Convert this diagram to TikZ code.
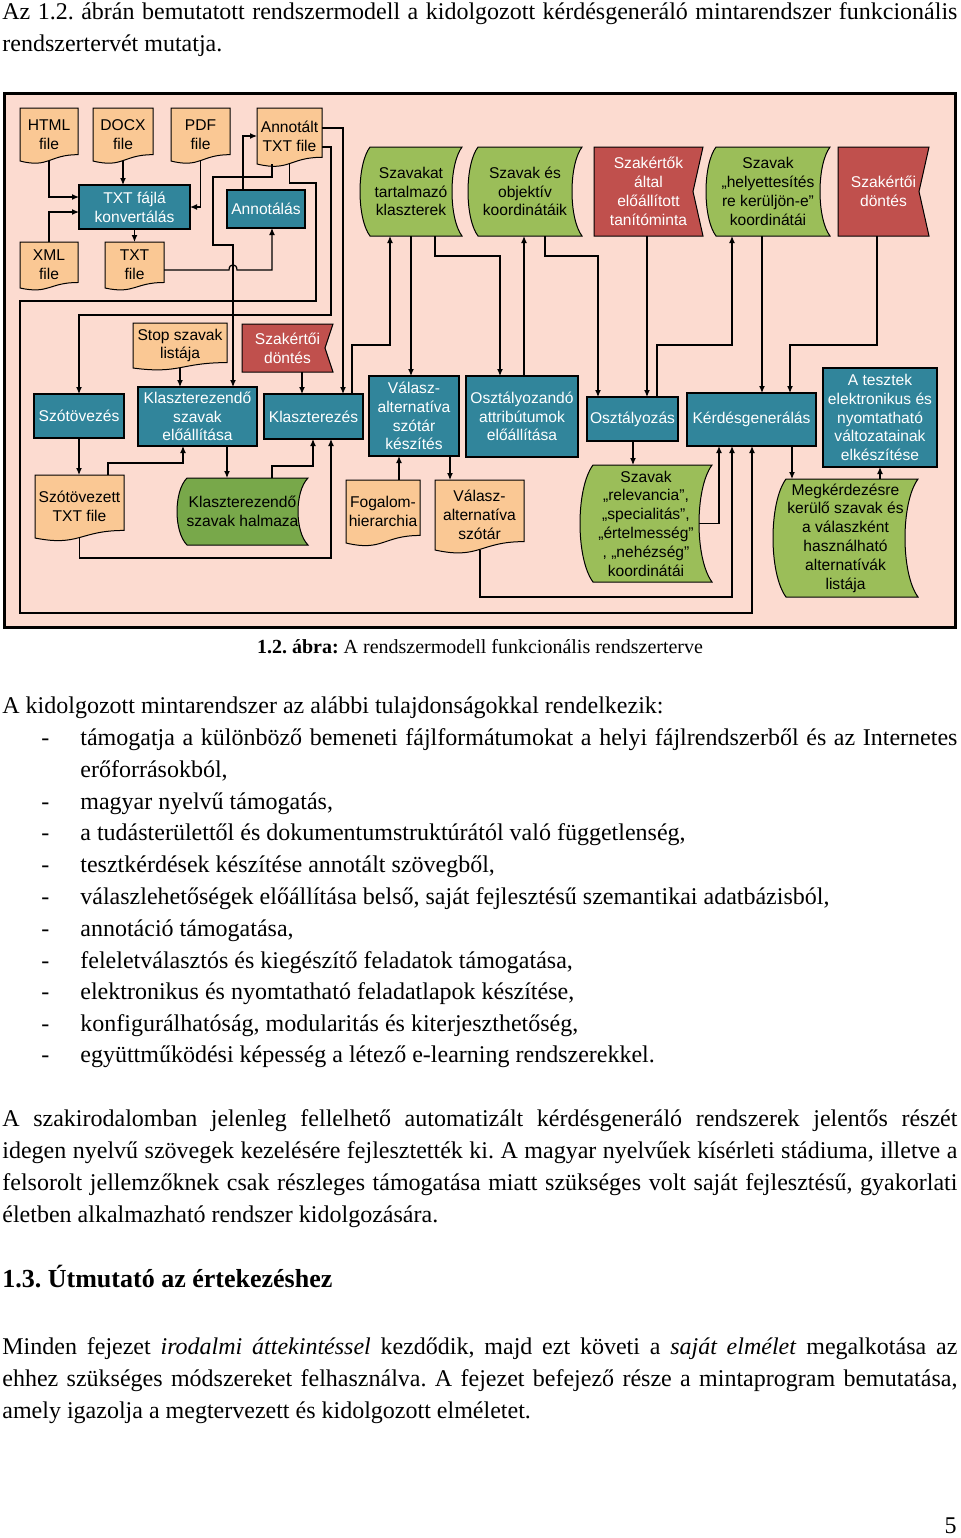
\documentclass[tikz,border=0pt]{standalone}
\usepackage{fontspec}
\setmainfont{Liberation Serif}
\newfontfamily\arial{Liberation Sans}
\frenchspacing
\usetikzlibrary{arrows.meta,backgrounds,calc}
\definecolor{pinkbg}{RGB}{252,219,208}
\definecolor{orangec}{RGB}{250,200,148}
\definecolor{tealc}{RGB}{49,133,155}
\definecolor{greenc}{RGB}{155,190,89}
\definecolor{greend}{RGB}{120,168,74}
\definecolor{redc}{RGB}{192,80,77}
\newcommand\dgf{\arial\fontsize{7.8}{9.4}\selectfont}
\newcommand\bx[6]{\node[#1, minimum width={(#4-#2)*0.5pt}, minimum height={(#5-#3)*0.5pt}] (#6) at ({(#2+#4)/2},{(#3+#5)/2})}
\newcommand\docshape[1]{\path[docst] let \p1=(#1.north west), \p2=(#1.south east) in
  (\x1,\y1) -- (\x2,\y1) -- (\x2,{\y1-0.88*(\y1-\y2)})
  .. controls ({(\x1+\x2)/2},{\y1-0.88*(\y1-\y2)}) and ({(\x1+\x2)/2},{\y1-1.14*(\y1-\y2)}) .. (\x1,\y2) -- cycle;}
\newcommand\storedshape[3]{\path[#3] let \p1=(#1.north west), \p2=(#1.south east) in
  ({\x1+#2},\y1) -- (\x2,\y1)
  .. controls ({\x2-4/3*#2},{\y1-0.2*(\y1-\y2)}) and ({\x2-4/3*#2},{\y2+0.2*(\y1-\y2)}) .. (\x2,\y2)
  -- ({\x1+#2},\y2)
  .. controls ({\x1-#2/3},{\y2+0.2*(\y1-\y2)}) and ({\x1-#2/3},{\y1-0.2*(\y1-\y2)}) .. ({\x1+#2},\y1) -- cycle;}
\newcommand\notchshape[2]{\path[redst] let \p1=(#1.north west), \p2=(#1.south east) in
  (\x1,\y1) -- (\x2,\y1) -- ({\x2-#2},{(\y1+\y2)/2}) -- (\x2,\y2) -- (\x1,\y2) -- cycle;}
\tikzset{
  dg/.style={inner sep=0pt, outer sep=0pt, align=center, font=\dgf},
  tealbox/.style={dg, fill=tealc, draw=black, line width=1.2pt, text=white},
  plain/.style={dg},
  wtxt/.style={dg, text=white},
  conn/.style={line width=0.6pt, draw=black},
  arr/.style={conn, -{Latex[length=3.5pt,width=3pt]}},
  docst/.style={fill=orangec, draw=black, line width=0.5pt},
  grnst/.style={fill=greenc, draw=black, line width=0.5pt},
  grnd/.style={fill=greend, draw=black, line width=0.5pt},
  redst/.style={fill=redc, draw=black, line width=0.5pt},
  body/.style={anchor=base west, inner sep=0pt, font=\fontsize{12}{14}\selectfont},
}
\begin{document}
\begin{tikzpicture}[x=0.5pt,y=-0.5pt]
\useasboundingbox (0,0) rectangle (960,1538);

% ---------- diagram nodes ----------
\bx{plain}{20}{108}{78}{161}{html} {HTML\\file};
\bx{plain}{93}{108}{153}{161}{docx} {DOCX\\file};
\bx{plain}{171}{108}{230}{161}{pdf} {PDF\\file};
\bx{plain}{257}{108}{322}{164}{annot} {Annotált\\TXT file};
\bx{plain}{20}{242}{78}{288}{xml} {XML\\file};
\bx{plain}{105}{242}{164}{288}{txt} {TXT\\file};
\bx{tealbox}{79}{185}{190}{229}{conv} {TXT fájlá\\konvertálás};
\bx{tealbox}{227}{190}{305}{228}{annotalas} {Annotálás};

\bx{plain}{360}{147}{462}{236}{klaszterek} {Szavakat\\tartalmazó\\klaszterek};
\bx{plain}{468}{147}{582}{236}{objektiv} {Szavak és\\objektív\\koordinátáik};
\bx{wtxt}{594}{147}{703}{236}{taninto} {Szakértők\\által\\előállított\\tanítóminta};
\bx{plain}{706}{147}{830}{236}{helyettesites} {Szavak\\„helyettesítés\\re kerüljön-e”\\koordinátái};
\bx{wtxt}{838}{147}{929}{236}{szakdont1} {Szakértői\\döntés};

\bx{plain}{133}{323}{227}{368}{stop} {Stop szavak\\listája};
\bx{wtxt}{242}{324}{333}{372}{szakdont2} {Szakértői\\döntés};
\bx{tealbox}{34}{394}{124}{438}{szotovezes} {Szótövezés};
\bx{tealbox}{138}{387}{257}{446}{klgen} {Klaszterezendő\\szavak\\előállítása};
\bx{tealbox}{264}{394}{363}{439}{klaszterezes} {Klaszterezés};
\bx{tealbox}{369}{376}{459}{456}{valkesz} {Válasz-\\alternatíva\\szótár\\készítés};
\bx{tealbox}{466}{376}{578}{457}{osztattr} {Osztályozandó\\attribútumok\\előállítása};
\bx{tealbox}{587}{397}{678}{441}{osztalyozas} {Osztályozás};
\bx{tealbox}{687}{393}{816}{446}{kerdes} {Kérdésgenerálás};
\bx{tealbox}{823}{368}{937}{467}{tesztek} {A tesztek\\elektronikus és\\nyomtatható\\változatainak\\elkészítése};

\bx{plain}{35}{475}{124}{538}{szotov} {Szótövezett\\TXT file};
\bx{plain}{177}{478}{308}{545}{halmaza} {Klaszterezendő\\szavak halmaza};
\bx{plain}{346}{480}{420}{543}{fogalom} {Fogalom-\\hierarchia};
\bx{plain}{435}{480}{524}{550}{valaszdoc} {Válasz-\\alternatíva\\szótár};
\bx{plain}{580}{465}{712}{582}{relevancia} {Szavak\\„relevancia”,\\„specialitás”,\\„értelmesség”\\, „nehézség”\\koordinátái};
\bx{plain}{773}{479}{918}{597}{megkerdezes} {Megkérdezésre\\kerülő szavak és\\a válaszként\\használható\\alternatívák\\listája};

\coordinate (relR) at ([xshift=-6.5pt]relevancia.east);

% ---------- shapes behind ----------
\begin{scope}[on background layer]
  \draw[fill=pinkbg, line width=1.5pt] (4,93) rectangle (955,627);
  \docshape{html}\docshape{docx}\docshape{pdf}\docshape{annot}
  \docshape{xml}\docshape{txt}\docshape{stop}\docshape{szotov}
  \docshape{fogalom}\docshape{valaszdoc}
  \storedshape{klaszterek}{5pt}{grnst}
  \storedshape{objektiv}{5pt}{grnst}
  \storedshape{helyettesites}{5pt}{grnst}
  \storedshape{halmaza}{5pt}{grnd}
  \storedshape{relevancia}{6.5pt}{grnst}
  \storedshape{megkerdezes}{6.5pt}{grnst}
  \notchshape{taninto}{5pt}
  \notchshape{szakdont1}{5pt}
  \notchshape{szakdont2}{4pt}
\end{scope}

% ---------- connectors ----------
\draw[arr] (html.south) |- (conv.west |- 0,197);
\draw[arr] (xml.north) |- (conv.west |- 0,212);
\draw[arr] (docx.south) -- (docx.south |- conv.north);
\draw[arr] (pdf.south) |- (conv.east);
\draw[arr] (conv.south -| txt.north) -- (txt.north);
\draw[arr] (txt.east |- 0,270) -- (229,270) .. controls (229,263) and (237,263) .. (237,270) -| (annotalas.south -| 272,0);
\draw[arr] (annotalas.north -| 243,0) |- (annot.west);
\draw[arr] (annot.south -| 272,0) |- (213,177) |- (233,245) -- (klgen.north -| 233,0);
\draw[arr] (annot.south) |- (316,183) -- (316,301) -- (20,301) -- (20,613) -| (kerdes.south -| 752,0);
\draw[arr] (annot.east |- 0,147) -| (331,315) -| (szotovezes.north);
\draw[arr] (annot.east |- 0,128) -| (klaszterezes.north -| 343,0);
\draw[arr] (stop.south) -- (stop.south |- klgen.north);
\draw[arr] (szakdont2.south -| 302,0) -- (klaszterezes.north -| 302,0);
\draw[arr] (szotovezes.south) -- (szotovezes.south |- szotov.north);
\draw[arr] (szotov.north -| 108,0) |- (183,463) -- (klgen.south -| 183,0);
\draw[arr] (klgen.south -| 227,0) -- (halmaza.north -| 227,0);
\draw[arr] (halmaza.north -| 272,0) |- (313,466) -- (klaszterezes.south -| 313,0);
\draw[arr] (szotov.south) |- (331,558) -- (klaszterezes.south -| 331,0);
\draw[arr] (klaszterezes.north -| 352,0) |- (390,345) -- (klaszterek.south -| 390,0);
\draw[arr] (klaszterek.south -| 411,0) -- (valkesz.north -| 411,0);
\draw[arr] (klaszterek.south -| 435,0) |- (500,256) -- (osztattr.north -| 500,0);
\draw[arr] (osztattr.north -| 524,0) -- (objektiv.south -| 524,0);
\draw[arr] (objektiv.south -| 545,0) |- (598,256) -- (osztalyozas.north -| 598,0);
\draw[arr] (taninto.south -| 647,0) -- (osztalyozas.north -| 647,0);
\draw[arr] (osztalyozas.north -| 657,0) |- (732,345) -- (helyettesites.south -| 732,0);
\draw[arr] (helyettesites.south -| 762,0) -- (kerdes.north -| 762,0);
\draw[arr] (szakdont1.south -| 877,0) |- (790,345) -- (kerdes.north -| 790,0);
\draw[arr] (fogalom.north -| 399,0) -- (valkesz.south -| 399,0);
\draw[arr] (valkesz.south -| 450,0) -- (valaszdoc.north -| 450,0);
\draw[arr] (valaszdoc.south -| 480,0) |- (732,597) -- (kerdes.south -| 732,0);
\draw[arr] (osztalyozas.south -| 633,0) -- (relevancia.north -| 633,0);
\draw[arr] (relR) -| (kerdes.south -| 719,0);
\draw[arr] (kerdes.south -| 792,0) -- (megkerdezes.north -| 792,0);
\draw[arr] (megkerdezes.north -| 880,0) -- (tesztek.south -| 880,0);

% ---------- page text ----------
\node[body] (t1) at (2,19) {\makebox[477.5pt][s]{Az 1.2. ábrán bemutatott rendszermodell a kidolgozott kérdésgeneráló mintarendszer funkcionális}};
\node[body] (t2) at (2,51) {rendszertervét mutatja.};
\node[anchor=base, inner sep=0pt, font=\fontsize{10}{12}\selectfont] (cap) at (480,653) {\textbf{1.2. ábra:} A rendszermodell funkcionális rendszerterve};
\node[body] (p1) at (2,713) {A kidolgozott mintarendszer az alábbi tulajdonságokkal rendelkezik:};
\foreach \yy/\nm in {745/d1,809/d2,840/d3,872/d4,904/d5,936/d6,968/d7,999/d8,1031/d9,1062/d10}
  \node[body] (\nm) at (41,\yy) {-};
\node[body] (i1) at (80,745) {\makebox[438.5pt][s]{támogatja a különböző bemeneti fájlformátumokat a helyi fájlrendszerből és az Internetes}};
\node[body] (i1b) at (80,777) {erőforrásokból,};
\node[body] (i2) at (80,809) {magyar nyelvű támogatás,};
\node[body] (i3) at (80,840) {a tudásterülettől és dokumentumstruktúrától való függetlenség,};
\node[body] (i4) at (80,872) {tesztkérdések készítése annotált szövegből,};
\node[body] (i5) at (80,904) {válaszlehetőségek előállítása belső, saját fejlesztésű szemantikai adatbázisból,};
\node[body] (i6) at (80,936) {annotáció támogatása,};
\node[body] (i7) at (80,968) {feleletválasztós és kiegészítő feladatok támogatása,};
\node[body] (i8) at (80,999) {elektronikus és nyomtatható feladatlapok készítése,};
\node[body] (i9) at (80,1031) {konfigurálhatóság, modularitás és kiterjeszthetőség,};
\node[body] (i10) at (80,1062) {együttműködési képesség a létező e-learning rendszerekkel.};

\node[body] (q1) at (2,1126) {\makebox[477.5pt][s]{A szakirodalomban jelenleg fellelhető automatizált kérdésgeneráló rendszerek jelentős részét}};
\node[body] (q2) at (2,1158) {\makebox[477.5pt][s]{idegen nyelvű szövegek kezelésére fejlesztették ki. A magyar nyelvűek kísérleti stádiuma, illetve a}};
\node[body] (q3) at (2,1190) {\makebox[477.5pt][s]{felsorolt jellemzőknek csak részleges támogatása miatt szükséges volt saját fejlesztésű, gyakorlati}};
\node[body] (q4) at (2,1222) {életben alkalmazható rendszer kidolgozására.};

\node[body, font=\fontsize{13}{15}\selectfont\bfseries] (h13) at (2,1287) {1.3. Útmutató az értekezéshez};

\node[body] (r1) at (2,1354) {\makebox[477.5pt][s]{Minden fejezet \textit{irodalmi áttekintéssel} kezdődik, majd ezt követi a \textit{saját elmélet} megalkotása az}};
\node[body] (r2) at (2,1386) {\makebox[477.5pt][s]{ehhez szükséges módszereket felhasználva. A fejezet befejező része a mintaprogram bemutatása,}};
\node[body] (r3) at (2,1418) {amely igazolja a megtervezett és kidolgozott elméletet.};

\node[anchor=base east, inner sep=0pt, font=\fontsize{12}{14}\selectfont] (pg) at (957,1533) {5};
\end{tikzpicture}
\end{document}
